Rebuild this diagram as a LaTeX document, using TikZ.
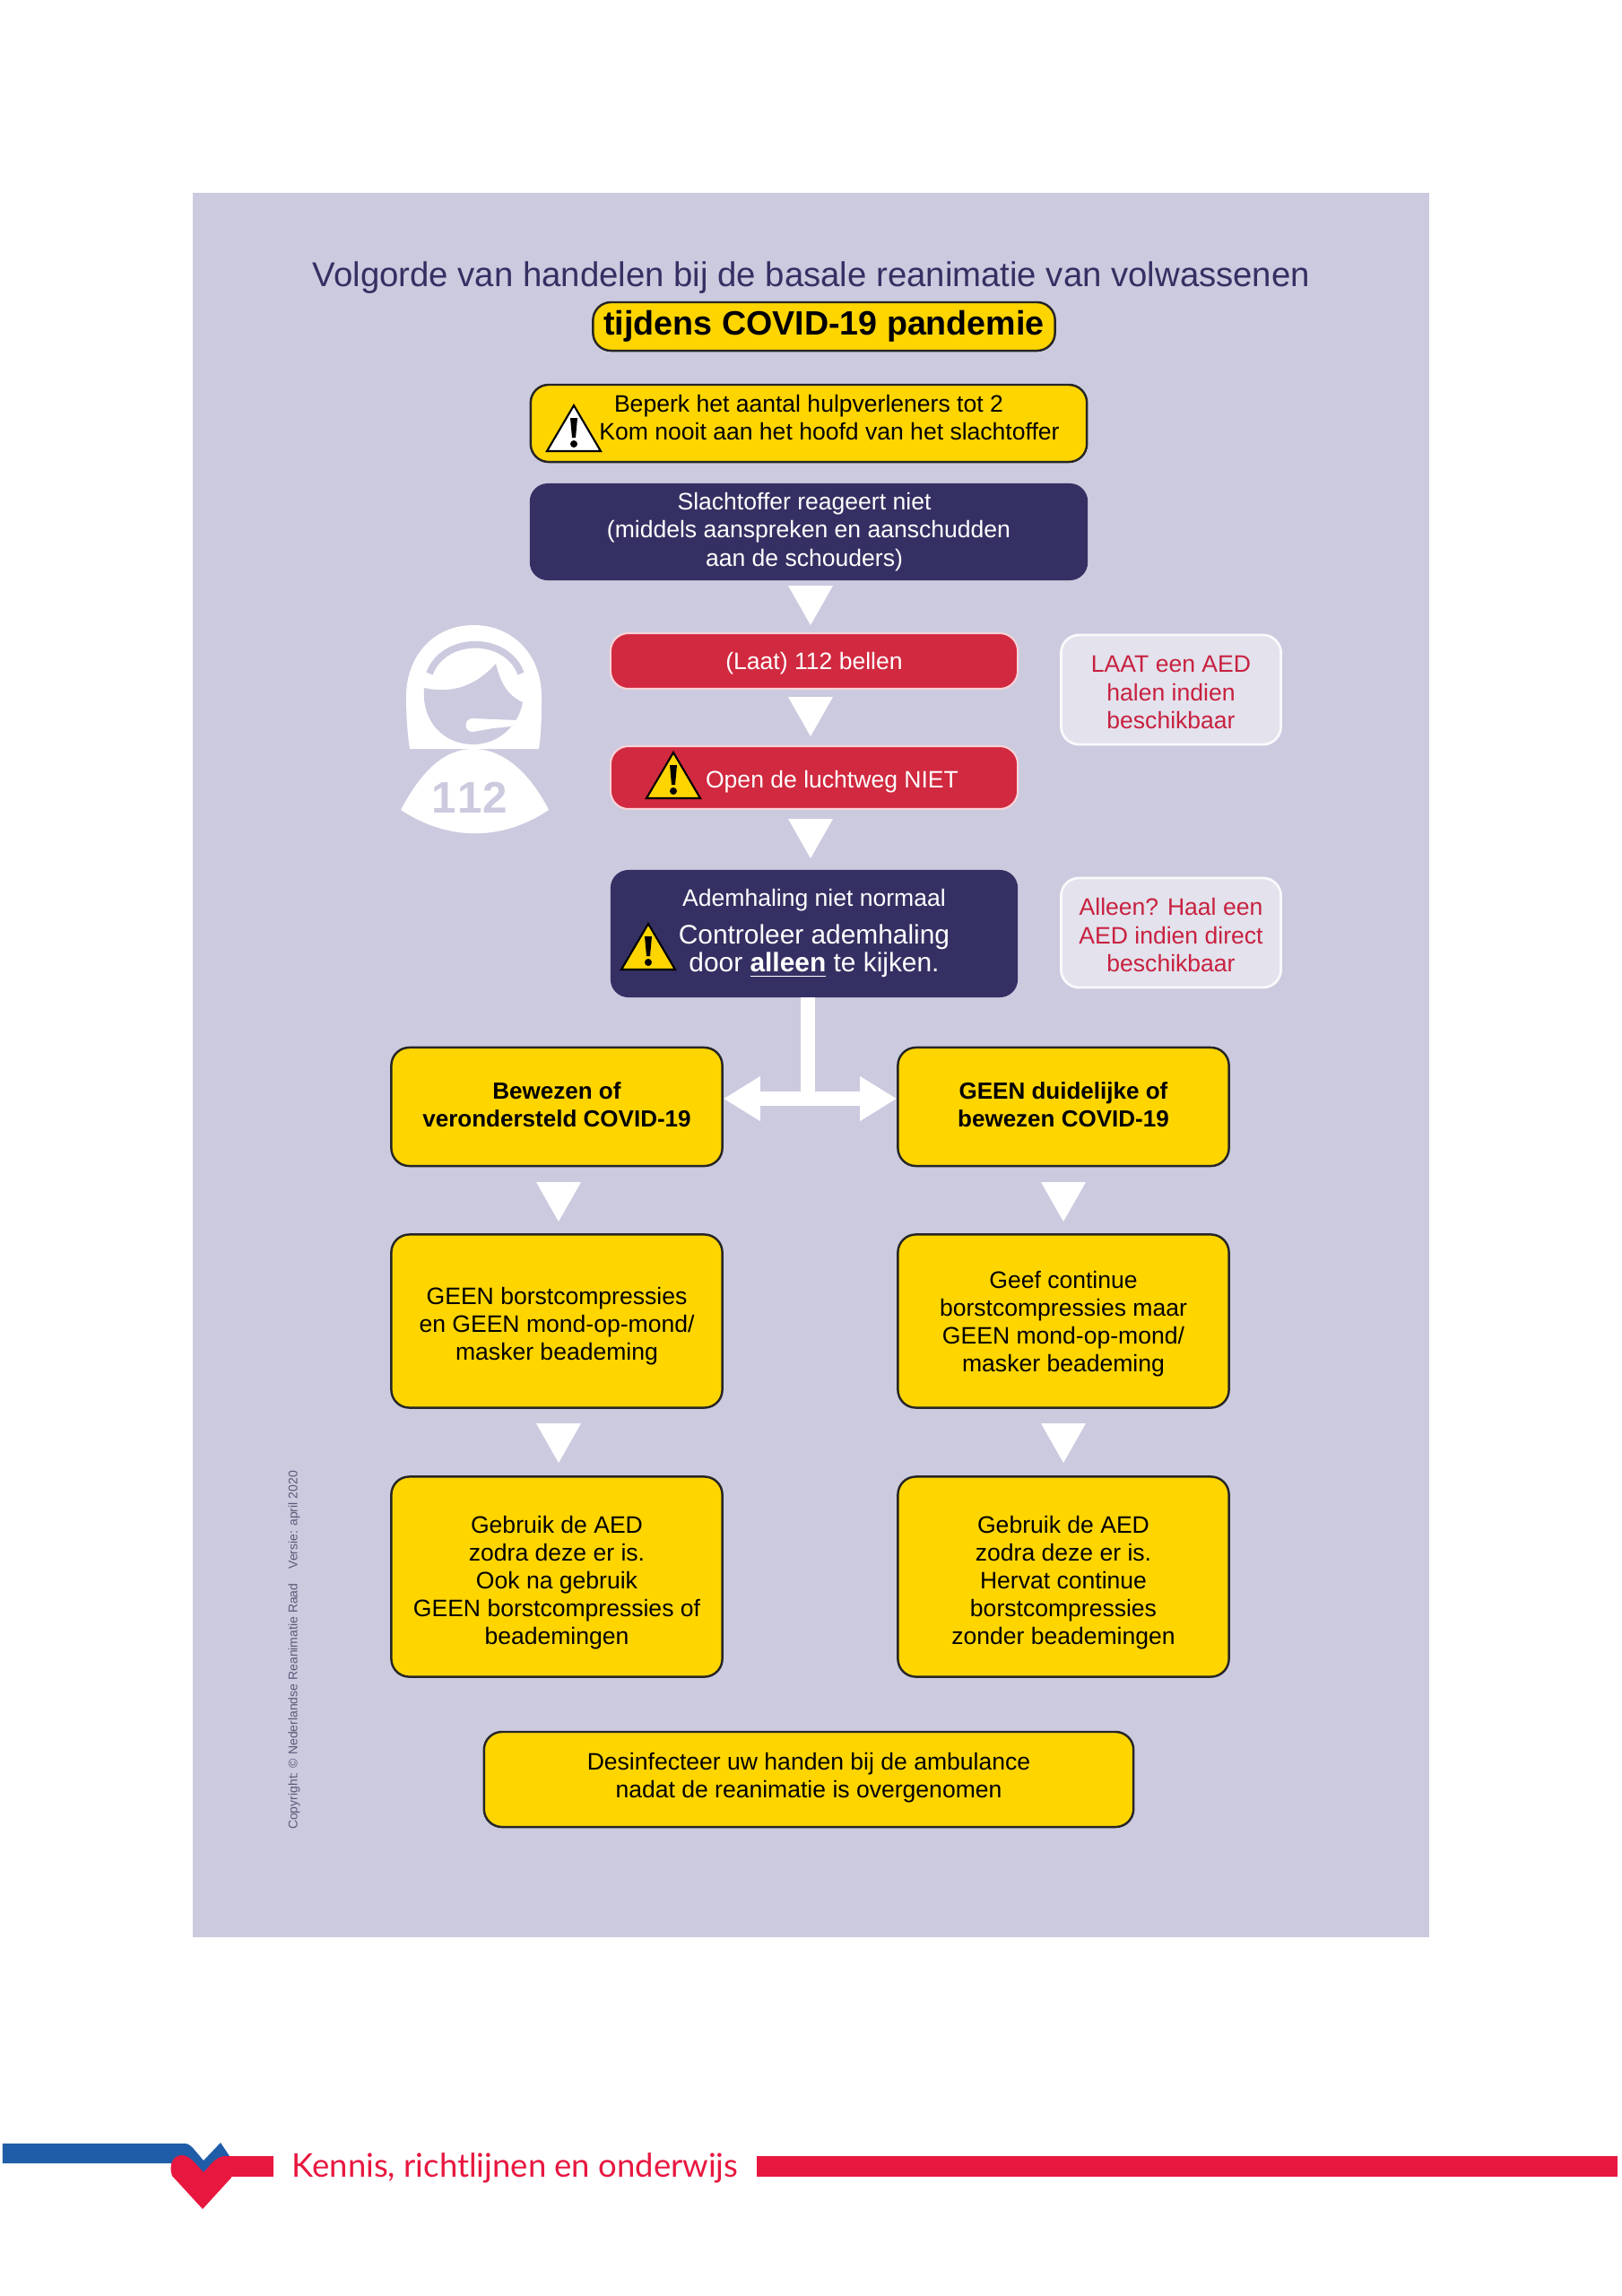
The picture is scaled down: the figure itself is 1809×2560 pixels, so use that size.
\documentclass[tikz,border=0pt]{standalone}
\usepackage{fontspec}
\setmainfont{Liberation Sans}
\newfontfamily\logofont{Lato}
\usetikzlibrary{arrows.meta}
\definecolor{panelbg}{HTML}{CCCADF}
\definecolor{navy}{HTML}{353063}
\definecolor{alertyellow}{HTML}{FFD500}
\definecolor{alertred}{HTML}{D1293F}
\definecolor{softbox}{HTML}{E3E2ED}
\definecolor{softred}{HTML}{C8213F}
\definecolor{logored}{HTML}{E8173F}
\definecolor{logoblue}{HTML}{1F5DA8}
\definecolor{notegrey}{HTML}{5C5A78}
% text sits a little off centre in most boxes
\newcommand{\dropfirst}[1]{\rule{0pt}{#1}}
\newcommand{\liftlast}[1]{\rule[-#1]{0pt}{#1}}
\begin{document}
\begin{tikzpicture}[x=0.01cm,y=-0.01cm,>=Triangle,
    bodyfont/.style={font=\fontsize{7.55}{8.85}\selectfont},
    box/.style={rounded corners=0.2cm, align=center, inner sep=0pt, bodyfont},
    yellowbox/.style={box, fill=alertyellow, draw=black!85, line width=0.7pt},
    navybox/.style={box, fill=navy, text=white},
    redbox/.style={box, fill=alertred, text=white, draw=white!80!alertred, line width=0.6pt},
    softnote/.style={box, fill=softbox, draw=white!80!softbox, line width=0.8pt, text=softred,
        minimum width=2.45cm, minimum height=1.22cm},
    colbox/.style={yellowbox, minimum width=3.69cm},
    midbox/.style={minimum width=4.54cm},
    wline/.style={white, line width=4.7pt},
    warnline/.style={black, line width=0.6pt, line join=miter}]

  % ---- page and panel ----
  \path[use as bounding box] (0,0) rectangle (1809,2560);
  \fill[white] (0,0) rectangle (1809,2560);
  \fill[panelbg] (215,215) rectangle (1594,2160);

  % ---- title ----
  \node[text=navy, font=\fontsize{10.9}{12}\selectfont] (title) at (905,310)
      {Volgorde van handelen bij de basale reanimatie van volwassenen};
  \node[yellowbox, font=\fontsize{10.7}{13}\selectfont\bfseries, minimum width=5.15cm,
        minimum height=0.54cm] (banner) at (919,364) {tijdens COVID-19 pandemie};

  % ---- top of the flow ----
  \node[yellowbox, minimum width=6.2cm, minimum height=0.86cm] (warnbox) at (902,472)
      {Beperk het aantal hulpverleners tot 2\\\hspace*{0.46cm}Kom nooit aan het hoofd van het slachtoffer\liftlast{3.8pt}};
  \node[navybox, minimum width=6.22cm, minimum height=1.08cm] (victim) at (902,593)
      {Slachtoffer reageert niet\hspace*{0.1cm}\\(middels aanspreken en aanschudden\hspace*{0.1cm}\\aan de schouders)\hspace*{0.1cm}};
  \node[redbox, midbox, minimum height=0.62cm] (call) at (908,737) {\dropfirst{6.9pt}(Laat) 112 bellen};
  \node[redbox, midbox, minimum height=0.7cm] (airway) at (908,867)
      {\dropfirst{8.3pt}\hspace*{0.4cm}Open de luchtweg NIET};
  \node[navybox, midbox, minimum height=1.42cm] (breath) at (908,1041)
      {Ademhaling niet normaal\\[3pt]
       \fontsize{8.5}{8.5}\selectfont Controleer ademhaling\\
       \fontsize{8.5}{8.5}\selectfont door \textbf{\underline{alleen}} te kijken.};

  % ---- side notes ----
  \node[softnote] (fetch) at (1306,769) {\dropfirst{6.9pt}LAAT een AED\\halen indien\\beschikbaar};
  \node[softnote] (alone) at (1306,1040) {\dropfirst{6.9pt}Alleen? Haal een\\AED indien direct\\beschikbaar};

  % ---- the two columns ----
  \node[colbox, minimum height=1.32cm, font=\fontsize{7.4}{8.85}\selectfont] (provenL) at (621,1234)
      {\textbf{Bewezen of}\\\textbf{verondersteld COVID-19}\liftlast{1.4pt}};
  \node[colbox, minimum height=1.32cm, font=\fontsize{7.4}{8.85}\selectfont] (provenR) at (1186,1234)
      {\textbf{GEEN duidelijke of}\\\textbf{bewezen COVID-19}\liftlast{1.4pt}};
  \node[colbox, minimum height=1.93cm] (compressL) at (621,1473)
      {\dropfirst{8.7pt}GEEN borstcompressies\\en GEEN mond-op-mond/\\masker beademing};
  \node[colbox, minimum height=1.93cm] (compressR) at (1186,1473)
      {\dropfirst{7.4pt}Geef continue\\borstcompressies maar\\GEEN mond-op-mond/\\masker beademing};
  \node[colbox, minimum height=2.23cm] (aedL) at (621,1758)
      {\dropfirst{9.2pt}Gebruik de AED\\zodra deze er is.\\Ook na gebruik\\GEEN borstcompressies of\\beademingen};
  \node[colbox, minimum height=2.23cm] (aedR) at (1186,1758)
      {\dropfirst{9.2pt}Gebruik de AED\\zodra deze er is.\\Hervat continue\\borstcompressies\\zonder beademingen};
  \node[yellowbox, minimum width=7.24cm, minimum height=1.06cm] (hands) at (902,1984)
      {Desinfecteer uw handen bij de ambulance\\nadat de reanimatie is overgenomen\liftlast{2.5pt}};

  % ---- white flow triangles ----
  \foreach \tx/\ty in {904/653, 904/777, 904/913, 623/1318, 1186/1318, 623/1587, 1186/1587}
    \fill[white] (\tx-25,\ty) -- (\tx+25,\ty) -- (\tx,\ty+44) -- cycle;

  % ---- the split below the breathing box ----
  \coordinate (stemtop) at (901,1112);
  \coordinate (split) at (901,1225);
  \draw[wline] (stemtop) -- (split);
  \draw[wline, <->, >={Triangle[length=0.41cm,width=0.47cm]}]
      ([yshift=0.09cm]provenL.east) -- ([yshift=0.09cm]provenR.west);

  % ---- warning signs ----
  \foreach \wx/\wy/\wcol in {640/503/white, 751/890/alertyellow, 723/1081/alertyellow} {
    \filldraw[warnline, fill=\wcol] (\wx-30,\wy) -- (\wx+30,\wy) -- (\wx,\wy-51) -- cycle;
    \fill[black] (\wx-4,\wy-37) -- (\wx+4,\wy-37) -- (\wx+2,\wy-15) -- (\wx-2,\wy-15) -- cycle;
    \fill[black] (\wx,\wy-8) circle[radius=4];
  }

  % ---- dispatcher figure ----
  \fill[white] (457,835) .. controls (454,815) and (453,795) .. (453,777)
      .. controls (453,730) and (485,697) .. (528,697)
      .. controls (572,697) and (604,730) .. (604,777)
      .. controls (604,795) and (604,815) .. (601,835) -- cycle;
  \fill[panelbg] (473,767) .. controls (510,775) and (535,760) .. (553,740)
      .. controls (558,760) and (565,775) .. (583,783)
      .. controls (578,810) and (555,830) .. (528,830)
      .. controls (495,830) and (470,805) .. (473,767) -- cycle;
  \draw[panelbg, line width=2.2pt] (479,751) .. controls (495,708) and (565,708) .. (581,751);
  \fill[white] (527,801) -- (550,802) -- (577,803) -- (570,810) -- (550,812) -- (527,816)
      arc[start angle=90, end angle=270, radius=7.5] -- cycle;
  \fill[white] (447,903) .. controls (470,860) and (495,835) .. (528,835)
      .. controls (560,835) and (590,860) .. (612,903)
      .. controls (560,938) and (500,938) .. (447,903) -- cycle;
  \node[text=panelbg, font=\fontsize{14}{16}\selectfont\bfseries] (number) at (524,889) {1\hspace{0.3pt}1\hspace{0.3pt}2};

  % ---- copyright line ----
  \node[rotate=90, text=notegrey, font=\fontsize{3.98}{5}\selectfont] (credit) at (328,1840)
      {Copyright: © Nederlandse Reanimatie Raad\hspace{0.12cm} Versie: april 2020};

  % ---- footer logo and rule ----
  \begin{scope}[yshift=-0.03cm]
    \fill[logoblue] (3,2387) -- (207,2387) .. controls (212,2388) .. (227,2406)
        -- (246,2386) -- (258,2404) -- (258,2412) -- (227,2420) -- (190,2409) -- (3,2409) -- cycle;
    \fill[logored] (257,2401) rectangle (305,2424);
    \fill[logored] (226,2460) -- (192,2423) .. controls (188,2412) and (192,2400) .. (203,2400)
        .. controls (212,2400) and (220,2412) .. (227,2419)
        .. controls (234,2412) and (240,2402) .. (250,2401) -- (258,2401) -- (258,2425) -- cycle;
    \node[text=logored, anchor=west, inner sep=0pt, font=\logofont\fontsize{10.37}{12}\selectfont] (slogan) at (325,2414)
        {Kennis, richtlijnen en onderwijs};
    \fill[logored] (844,2401) rectangle (1804,2424);
  \end{scope}

\end{tikzpicture}
\end{document}
